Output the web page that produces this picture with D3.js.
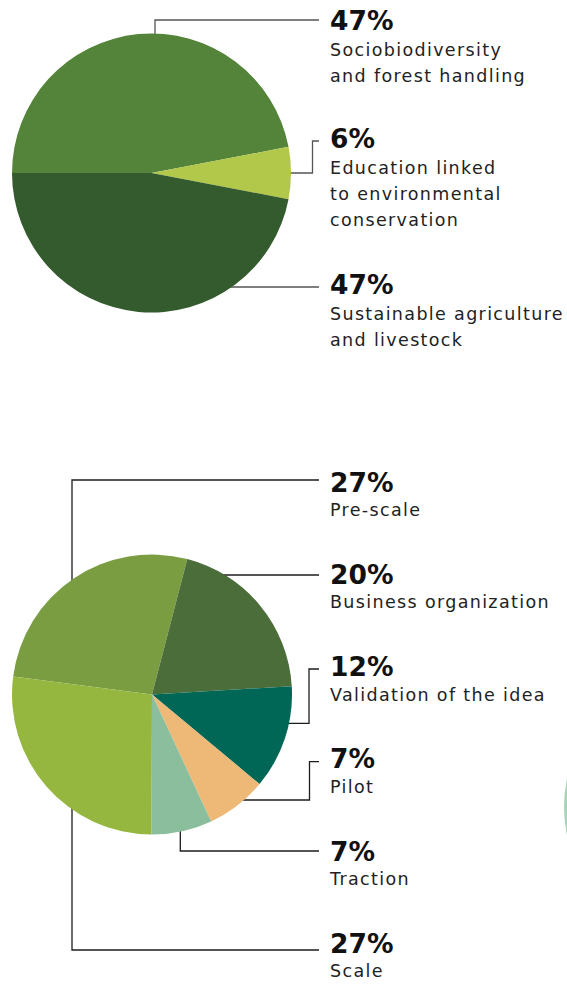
<!DOCTYPE html>
<html>
<head>
<meta charset="utf-8">
<script src="https://cdn.jsdelivr.net/npm/d3@7"></script>
<style>
  html, body { margin: 0; padding: 0; background: #fff; overflow: hidden; }
  svg { display: block; }
  .pct { font-family: "DejaVu Sans", sans-serif; font-weight: 700; font-size: 26.5px; fill: #111; }
  .lbl { font-family: "DejaVu Sans", sans-serif; font-size: 17.5px; fill: #222; letter-spacing: 1.35px; }
</style>
</head>
<body>
<svg id="chart" width="567" height="987"></svg>
<script>
// --- data ---
const themeLabels = [
    ['Sociobiodiversity', 'and forest handling'],
    ['Education linked', 'to environmental', 'conservation'],
    ['Sustainable agriculture', 'and livestock']
];
const themeValues = [47, 6, 47];
const themeColors = ['#54833a', '#b2c84b', '#345b2d'];

const stageLabels = [
    ['Pre-scale'],
    ['Business organization'],
    ['Validation of the idea'],
    ['Pilot'],
    ['Traction'],
    ['Scale']
];
const stageValues = [27, 20, 12, 7, 7, 27];
const stageColors = ['#7a9d42', '#4b6d3a', '#006756', '#eeb877', '#8bbe9d', '#95b63f'];

// --- layout ---
const textX = 330;
const lineEndX = 319;
const deg = Math.PI / 180;

const charts = [
    {
        labels: themeLabels, values: themeValues, colors: themeColors,
        cx: 151.5, cy: 173, r: 139.5, start: -90 * deg,
        stroke: '#555', lineGap: 26.5,
        leaders: [
            { type: 'v', x0: 155, lineY: 20, textY: 29.5 },
            { type: 'h', y0: 173, elbowX: 312.5, lineY: 141, textY: 147.5 },
            { type: 'h', y0: 287, lineY: 287, textY: 293.5 }
        ]
    },
    {
        labels: stageLabels, values: stageValues, colors: stageColors,
        cx: 152, cy: 694.5, r: 140, start: -82.6 * deg,
        stroke: '#1c1c1c', lineGap: 24.5,
        leaders: [
            { type: 'v', x0: 72, lineY: 480, textY: 491.7 },
            { type: 'h', y0: 575, lineY: 575, textY: 583.9 },
            { type: 'h', y0: 723.3, elbowX: 309, lineY: 669, textY: 676.1 },
            { type: 'h', y0: 800, elbowX: 309.5, lineY: 761.7, textY: 768.3 },
            { type: 'v', x0: 180.3, lineY: 851, textY: 860.5 },
            { type: 'v', x0: 72, lineY: 950, textY: 952.7 }
        ]
    }
];

const svg = d3.select('#chart');

// partial circle of the next chart, cut by the right edge
svg.append('circle')
    .attr('cx', 698)
    .attr('cy', 807)
    .attr('r', 134)
    .attr('fill', '#a9d3b9');

function leaderPath(c, l) {
    const r = c.r - 3;
    const p = d3.path();
    if (l.type === 'v') {
        const dy = Math.sqrt(r * r - (l.x0 - c.cx) ** 2);
        const y0 = l.lineY < c.cy ? c.cy - dy : c.cy + dy;
        p.moveTo(l.x0, y0);
        p.lineTo(l.x0, l.lineY);
        p.lineTo(lineEndX, l.lineY);
    } else {
        const x0 = c.cx + Math.sqrt(r * r - (l.y0 - c.cy) ** 2);
        p.moveTo(x0, l.y0);
        if (l.elbowX != null) {
            p.lineTo(l.elbowX, l.y0);
            p.lineTo(l.elbowX, l.lineY);
        }
        p.lineTo(lineEndX, l.lineY);
    }
    return p.toString();
}

charts.forEach(c => {
    const g = svg.append('g');

    // leader lines under the pie
    g.append('g').selectAll('path')
        .data(c.leaders)
        .join('path')
        .attr('d', l => leaderPath(c, l))
        .attr('fill', 'none')
        .attr('stroke', c.stroke)
        .attr('stroke-width', 1.3);

    const pie = d3.pie()
        .sort(null)
        .startAngle(c.start)
        .endAngle(c.start + 2 * Math.PI);
    const arc = d3.arc().innerRadius(0).outerRadius(c.r);

    g.append('g')
        .attr('transform', `translate(${c.cx},${c.cy})`)
        .selectAll('path')
        .data(pie(c.values))
        .join('path')
        .attr('d', arc)
        .attr('fill', (d, i) => c.colors[i]);

    // text blocks
    const txt = g.append('g').selectAll('g')
        .data(c.values.map((v, i) => ({ v, lines: c.labels[i], l: c.leaders[i] })))
        .join('g');

    txt.append('text')
        .attr('class', 'pct')
        .attr('x', textX)
        .attr('y', d => d.l.textY)
        .text(d => d.v + '%');

    txt.each(function (d) {
        d3.select(this).selectAll('text.lbl')
            .data(d.lines)
            .join('text')
            .attr('class', 'lbl')
            .attr('x', textX)
            .attr('y', (s, j) => d.l.textY + c.lineGap + j * 26)
            .text(s => s);
    });
});
</script>
</body>
</html>
